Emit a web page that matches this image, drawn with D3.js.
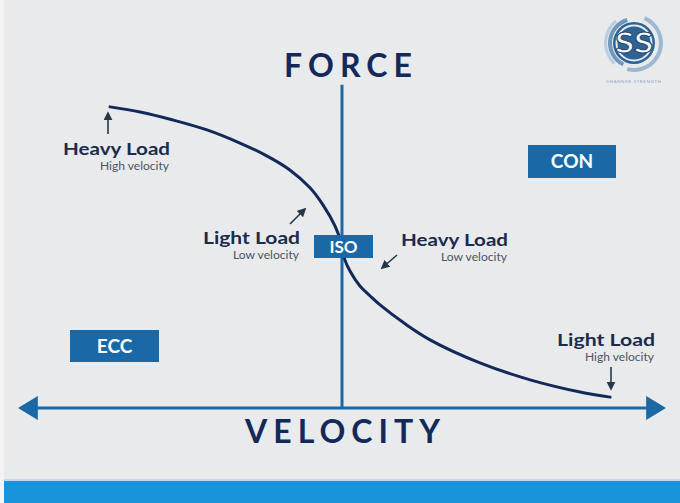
<!DOCTYPE html>
<html lang="en">
<head>
<meta charset="UTF-8">
<title>Force Velocity Curve</title>
<script src="https://d3js.org/d3.v7.min.js"></script>
<style>
    body { margin: 0; background: #e9eaec; }
    svg { display: block; font-family: Lato, 'Open Sans', sans-serif; }
</style>
</head>
<body>
<div id="chart"></div>
<script>
    // force-velocity curve, velocity (neg = eccentric) vs force
    const curveVelocity = [-7.25, -6.31, -5.28, -4.22, -3.19, -2.41, -1.63, -1.0, -0.59, -0.22, 0, 0.09, 0.25, 0.56, 0.88, 1.19, 1.97, 2.75, 4.31, 5.88, 7.44, 8.38];
    const curveForce = [9.41, 9.25, 9.0, 8.69, 8.28, 7.91, 7.44, 6.88, 6.34, 5.69, 5.09, 4.63, 4.28, 3.81, 3.5, 3.22, 2.63, 2.13, 1.41, 0.88, 0.5, 0.34];

    const axisTitles = ["FORCE", "VELOCITY"];
    const zoneLabels = ["CON", "ISO", "ECC"];
    const loadLabels = ["Heavy Load", "Light Load", "Heavy Load", "Light Load"];
    const speedLabels = ["High velocity", "Low velocity", "Low velocity", "High velocity"];

    const width = 680, height = 503;
    const navy = "#13295a", axisBlue = "#1a68a6", textDark = "#1b2c4c";

    const svg = d3.select("#chart").append("svg")
        .attr("width", width)
        .attr("height", height);

    svg.append("rect").attr("width", width).attr("height", height).attr("fill", "#e9eaec");
    svg.append("rect").attr("width", 4).attr("height", height).attr("fill", "#f3f3f4");
    svg.append("rect").attr("x", 4).attr("y", 479).attr("width", width).attr("height", 2).attr("fill", "#c9d7ee");
    svg.append("rect").attr("x", 4).attr("y", 481).attr("width", width).attr("height", 22).attr("fill", "#1794db");

    const x = d3.scaleLinear().domain([-10, 10]).range([22, 662]);
    const y = d3.scaleLinear().domain([0, 10]).range([408, 88]);

    const defs = svg.append("defs");
    defs.append("marker")
        .attr("id", "bigArrow")
        .attr("markerUnits", "userSpaceOnUse")
        .attr("viewBox", "0 0 20 24")
        .attr("refX", 3).attr("refY", 12)
        .attr("markerWidth", 20).attr("markerHeight", 24)
        .attr("orient", "auto-start-reverse")
        .append("path").attr("d", "M0,0 L20,12 L0,24 Z").attr("fill", axisBlue);
    defs.append("marker")
        .attr("id", "smallArrow")
        .attr("markerUnits", "userSpaceOnUse")
        .attr("viewBox", "0 0 10 10")
        .attr("refX", 8).attr("refY", 5)
        .attr("markerWidth", 9).attr("markerHeight", 9)
        .attr("orient", "auto")
        .append("path").attr("d", "M0,0 L10,5 L0,10 Z").attr("fill", "#26384c");

    // axes
    svg.append("line")
        .attr("x1", x(-9.6)).attr("x2", x(9.6))
        .attr("y1", y(0)).attr("y2", y(0))
        .attr("stroke", axisBlue).attr("stroke-width", 3)
        .attr("marker-start", "url(#bigArrow)")
        .attr("marker-end", "url(#bigArrow)");
    svg.append("line")
        .attr("x1", x(0)).attr("x2", x(0))
        .attr("y1", y(0)).attr("y2", y(10.1))
        .attr("stroke", axisBlue).attr("stroke-width", 3);

    // curve
    const pts = curveVelocity.map((v, i) => [v, curveForce[i]]);
    const line = d3.line()
        .x(d => x(d[0]))
        .y(d => y(d[1]))
        .curve(d3.curveCatmullRom.alpha(0.5));
    svg.append("path")
        .datum(pts)
        .attr("d", line)
        .attr("fill", "none")
        .attr("stroke", navy)
        .attr("stroke-width", 3)
        .attr("stroke-linecap", "round");

    // axis titles
    svg.append("text")
        .attr("x", 284).attr("y", 77)
        .attr("textLength", 128).attr("lengthAdjust", "spacing")
        .attr("font-size", 32).attr("font-weight", 700)
        .attr("fill", navy)
        .text(axisTitles[0]);
    svg.append("text")
        .attr("x", 245).attr("y", 443)
        .attr("textLength", 195).attr("lengthAdjust", "spacing")
        .attr("font-size", 32).attr("font-weight", 700)
        .attr("fill", navy)
        .text(axisTitles[1]);

    // zone boxes
    const boxes = [
        { x0: 528, y0: 145, w: 88, h: 33, size: 19 },
        { x0: 314, y0: 235, w: 59, h: 23, size: 17 },
        { x0: 70, y0: 330, w: 89, h: 32, size: 19 }
    ];
    boxes.forEach((b, i) => {
        svg.append("rect")
            .attr("x", b.x0).attr("y", b.y0)
            .attr("width", b.w).attr("height", b.h)
            .attr("fill", axisBlue);
        svg.append("text")
            .attr("x", b.x0 + b.w / 2).attr("y", b.y0 + b.h / 2)
            .attr("dy", "0.36em")
            .attr("text-anchor", "middle")
            .attr("font-size", b.size).attr("font-weight", 700)
            .attr("fill", "#fff")
            .text(zoneLabels[i]);
    });

    // load annotations (right aligned)
    const notes = [
        { rx: 170, by: 155, w1: 107, w2: 69, arrow: [[108, 134], [108, 113]] },
        { rx: 300, by: 244, w1: 97, w2: 66, arrow: [[290, 224], [305, 209]] },
        { rx: 508, by: 246, w1: 107, w2: 66, arrow: [[397, 255], [382, 268]] },
        { rx: 655, by: 346, w1: 98, w2: 69, arrow: [[611, 367], [611, 389]] }
    ];
    notes.forEach((n, i) => {
        svg.append("text")
            .attr("x", n.rx).attr("y", n.by)
            .attr("text-anchor", "end")
            .attr("textLength", n.w1).attr("lengthAdjust", "spacingAndGlyphs")
            .attr("font-size", 17).attr("font-weight", 700)
            .attr("fill", textDark)
            .text(loadLabels[i]);
        svg.append("text")
            .attr("x", n.rx - 1).attr("y", n.by + 15)
            .attr("text-anchor", "end")
            .attr("textLength", n.w2).attr("lengthAdjust", "spacingAndGlyphs")
            .attr("font-size", 11)
            .attr("fill", "#4c5561")
            .text(speedLabels[i]);
        svg.append("line")
            .attr("x1", n.arrow[0][0]).attr("y1", n.arrow[0][1])
            .attr("x2", n.arrow[1][0]).attr("y2", n.arrow[1][1])
            .attr("stroke", "#26384c").attr("stroke-width", 1.6)
            .attr("marker-end", "url(#smallArrow)");
    });

    // logo
    const logo = svg.append("g").attr("transform", "translate(634,43)");
    const arc = d3.arc();
    [[25, 29, 0.4, 3.4, "#9db9d2"], [22, 26, 3.6, 6.0, "#6f98bd"], [27, 30, 3.9, 5.6, "#b9cde0"]].forEach(a => {
        logo.append("path")
            .attr("d", arc({ innerRadius: a[0], outerRadius: a[1], startAngle: a[2], endAngle: a[3] }))
            .attr("fill", a[4]);
    });
    logo.append("circle").attr("r", 21).attr("fill", "#2f6394");
    logo.append("circle").attr("r", 17.5).attr("fill", "none").attr("stroke", "#e3ebf2").attr("stroke-width", 2);
    logo.append("text")
        .attr("y", 10).attr("text-anchor", "middle")
        .attr("textLength", 38).attr("lengthAdjust", "spacingAndGlyphs")
        .attr("font-size", 28).attr("font-weight", 700)
        .attr("fill", "#fff").attr("stroke", "#244a70").attr("stroke-width", 1)
        .text("SS");
    logo.append("text")
        .attr("y", 40).attr("text-anchor", "middle")
        .attr("font-size", 4.5).attr("letter-spacing", 0.6)
        .attr("fill", "#8ea7c0")
        .text("SHANNER STRENGTH");
</script>
</body>
</html>
